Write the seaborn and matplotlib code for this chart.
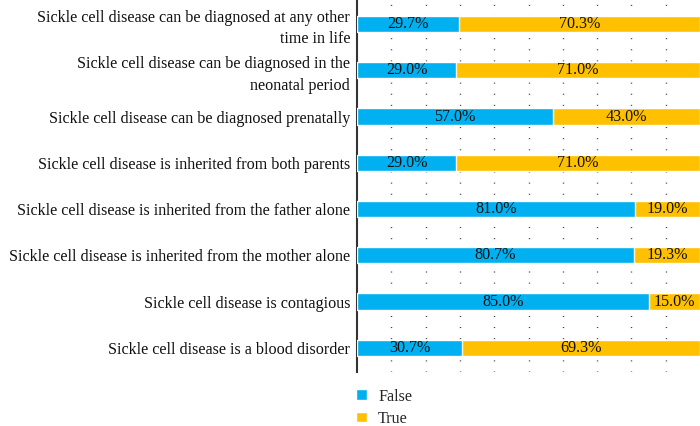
import matplotlib
matplotlib.use("Agg")
import matplotlib.pyplot as plt
import seaborn as sns
import pandas as pd
from matplotlib.patches import Patch

statements = [
    "Sickle cell disease can be diagnosed at any other\ntime in life",
    "Sickle cell disease can be diagnosed in the\nneonatal period",
    "Sickle cell disease can be diagnosed prenatally",
    "Sickle cell disease is inherited from both parents",
    "Sickle cell disease is inherited from the father alone",
    "Sickle cell disease is inherited from the mother alone",
    "Sickle cell disease is contagious",
    "Sickle cell disease is a blood disorder",
]
false_pct = [29.7, 29.0, 57.0, 29.0, 81.0, 80.7, 85.0, 30.7]
true_pct = [70.3, 71.0, 43.0, 71.0, 19.0, 19.3, 15.0, 69.3]

BLUE = "#00B0F0"
GOLD = "#FFC000"
FS = 11.6

sns.set_theme(style="white")
plt.rcParams["font.family"] = ["Liberation Serif", "DejaVu Serif"]

df = pd.DataFrame({"statement": statements, "False": false_pct, "True": true_pct})
df["total"] = df["False"] + df["True"]

fig = plt.figure(figsize=(7, 4.26), dpi=100)
ax = fig.add_axes([0.51, 0.127, 0.49, 0.873])

# stacked: full bar in gold, then the False share in blue over it
sns.barplot(data=df, y="statement", x="total", color=GOLD, width=0.35,
            saturation=1, ax=ax, orient="h", zorder=2)
sns.barplot(data=df, y="statement", x="False", color=BLUE, width=0.35,
            saturation=1, ax=ax, orient="h", zorder=3)

for i, (f, t) in enumerate(zip(false_pct, true_pct)):
    ax.text(f / 2, i, f"{f:.1f}%", ha="center", va="center", fontsize=FS, color="#111111", zorder=4)
    ax.text(f + t / 2, i, f"{t:.1f}%", ha="center", va="center", fontsize=FS, color="#111111", zorder=4)

ax.set_xlim(0, 100)
ax.set_ylim(7.52, -0.52)
ax.set_xticks(range(10, 100, 10))
ax.set_xticklabels([])
ax.grid(axis="x", color="#333333", linestyle=(0, (0.7, 7.3)), linewidth=1.0, zorder=0)
ax.grid(axis="y", visible=False)
ax.set_xlabel("")
ax.set_ylabel("")
ax.tick_params(axis="both", length=0)
ax.tick_params(axis="y", labelsize=FS, pad=5, colors="#111111")
for lbl in ax.get_yticklabels():
    lbl.set_horizontalalignment("right")
    lbl.set_multialignment("right")
    lbl.set_linespacing(1.45)
for side in ["top", "right", "bottom"]:
    ax.spines[side].set_visible(False)
ax.spines["left"].set_color("#333333")
ax.spines["left"].set_linewidth(1.5)

handles = [Patch(facecolor=BLUE, label="False"), Patch(facecolor=GOLD, label="True")]
fig.legend(handles=handles, loc="upper left", bbox_to_anchor=(0.509, 0.088),
           frameon=False, fontsize=FS, handlelength=0.65, handleheight=0.65,
           handletextpad=0.7, labelspacing=0.38, borderaxespad=0, borderpad=0)

fig.savefig("out.png", dpi=100)
